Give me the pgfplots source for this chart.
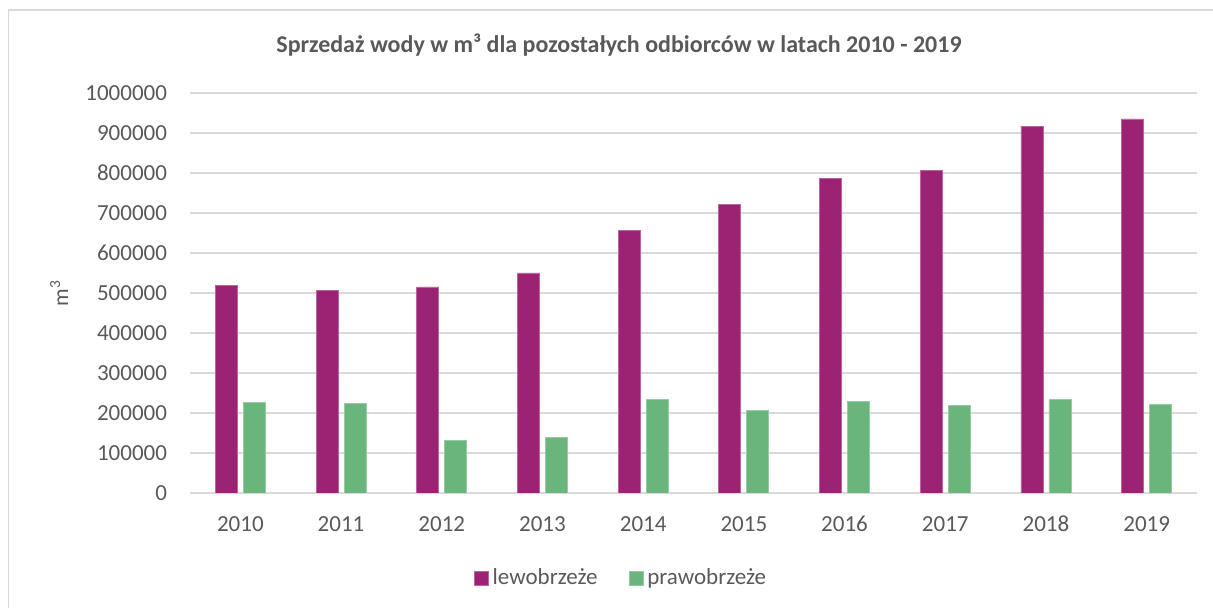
\documentclass[border=0pt]{standalone}
\usepackage{fontspec}
\setmainfont{Carlito}
\usepackage{pgfplots}
\pgfplotsset{compat=1.18}

\definecolor{lewo}{HTML}{9C2374}
\definecolor{prawo}{HTML}{6AB57C}
\definecolor{txt}{HTML}{595959}
\definecolor{gridc}{HTML}{D9D9D9}

\begin{document}
\begin{tikzpicture}
\useasboundingbox (0,0) rectangle (606.5bp,304bp);
% chart frame (only left and top edges are visible in the crop)
\draw[gridc, line width=0.8bp] (4.3bp,0) -- (4.3bp,299bp) -- (606.5bp,299bp);
\node[txt, font=\fontsize{12bp}{14bp}\selectfont\bfseries] at (309.5bp,281.5bp)
  {Sprzedaż wody w m³ dla pozostałych odbiorców w latach 2010 - 2019};
\begin{axis}[
  at={(95bp,57.5bp)}, anchor=south west,
  scale only axis, width=503.5bp, height=200bp,
  ybar=3bp, bar width=11bp,
  xmin=-0.5, xmax=9.5, ymin=0, ymax=1000000,
  xtick=data,
  xticklabels={2010,2011,2012,2013,2014,2015,2016,2017,2018,2019},
  ytick={0,100000,...,1000000},
  scaled y ticks=false,
  /pgf/number format/.cd, fixed, 1000 sep={}, assume math mode=true, /pgfplots/.cd,
  ymajorgrids, grid style={draw=gridc, line width=0.75bp},
  axis line style={draw=none},
  axis x line*=bottom, axis y line*=left,
  x axis line style={draw=gridc, line width=0.75bp},
  major tick length=0pt,
  tick label style={txt, font=\fontsize{11.5bp}{13bp}\selectfont},
  yticklabel style={xshift=-8bp},
  xticklabel style={anchor=north, text height=8.5bp, text depth=0pt, yshift=-7bp},
  ylabel={m\textsuperscript{3}},
  ylabel style={txt, font=\fontsize{11bp}{13bp}\selectfont,
    at={(axis description cs:-0.13,0.5)}, anchor=center, rotate=0},
  legend style={at={(axis description cs:0.429,-0.2125)}, anchor=center,
    draw=none, fill=none, legend columns=2,
    font=\fontsize{11.5bp}{13bp}\selectfont, text=txt,
    /tikz/every even column/.append style={column sep=13.5bp}},
  legend image code/.code={\fill[#1] (0bp,-3.5bp) rectangle (7bp,3.5bp);},
]
\addplot[fill=lewo, draw=lewo!70!white, line width=0.4bp] coordinates {
  (0,518000) (1,507000) (2,515000) (3,550000) (4,656000)
  (5,722000) (6,787000) (7,806000) (8,917000) (9,935000)};
\addplot[fill=prawo, draw=prawo!70!white, line width=0.4bp] coordinates {
  (0,227000) (1,224000) (2,132000) (3,139000) (4,233000)
  (5,207000) (6,229000) (7,219000) (8,233000) (9,221000)};
\legend{lewobrzeże, prawobrzeże}
\end{axis}
\end{tikzpicture}
\end{document}
